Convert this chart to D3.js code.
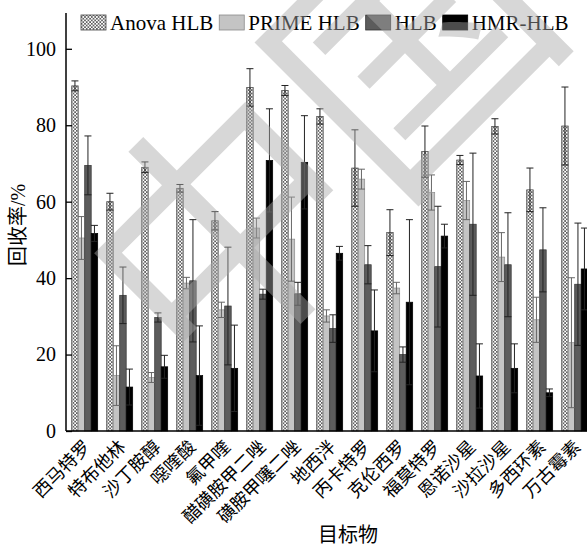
<!DOCTYPE html>
<html>
<head>
<meta charset="utf-8">
<script src="https://cdn.jsdelivr.net/npm/d3@7"></script>
<style>
  body { margin: 0; background: #fff; }
  text { font-family: "Liberation Serif", "Times New Roman", serif; }
  .cjk { font-family: "Noto Sans CJK SC", sans-serif; }
</style>
</head>
<body>
<div id="plot"></div>
<script>
// data
const categories = ["西马特罗", "特布他林", "沙丁胺醇", "噁喹酸", "氟甲喹", "醋磺胺甲二唑", "磺胺甲噻二唑",
    "地西泮", "丙卡特罗", "克伦西罗", "福莫特罗", "恩诺沙星", "沙拉沙星", "多西环素", "万古霉素"];
const seriesNames = ["Anova HLB", "PRIME HLB", "HLB", "HMR-HLB"];

const anova    = [90.3, 60.0, 69.0, 63.5, 55.0, 89.9, 89.1, 82.3, 68.8, 51.9, 73.1, 70.9, 79.7, 63.1, 79.8];
const anovaErr = [1.3, 2.2, 1.4, 1.0, 2.4, 4.9, 1.3, 2.0, 10.0, 6.0, 6.7, 1.2, 2.0, 5.7, 10.2];
const prime    = [50.5, 14.5, 14.0, 38.7, 31.7, 53.1, 50.2, 30.1, 65.9, 37.4, 62.4, 60.3, 45.5, 29.1, 23.1];
const primeErr = [5.6, 7.8, 1.3, 1.5, 2.0, 2.6, 11.0, 1.6, 2.6, 1.5, 4.6, 5.0, 6.4, 5.9, 17.0];
const hlb      = [69.5, 35.5, 29.7, 39.3, 32.7, 35.8, 35.9, 26.8, 43.5, 20.0, 43.0, 54.1, 43.5, 47.4, 38.4];
const hlbErr   = [7.7, 7.4, 1.2, 16.0, 15.4, 1.3, 3.0, 3.6, 5.0, 2.0, 15.8, 18.6, 13.6, 11.0, 16.0];
const hmr      = [51.7, 11.5, 16.8, 14.5, 16.4, 70.8, 70.3, 46.5, 26.2, 33.7, 51.0, 14.4, 16.4, 10.0, 42.4];
const hmrErr   = [2.1, 4.7, 3.0, 13.0, 11.3, 13.5, 12.2, 1.8, 10.7, 21.6, 3.1, 8.4, 6.4, 1.0, 10.7];
const yTicks = [0, 20, 40, 60, 80, 100];

const values = [anova, prime, hlb, hmr];
const errors = [anovaErr, primeErr, hlbErr, hmrErr];

const width = 587, height = 547;
const axisX = 66, axisY = 431;

const svg = d3.select("#plot").append("svg")
    .attr("width", width)
    .attr("height", height);

// crosshatch pattern for Anova HLB
const defs = svg.append("defs");
const pat = defs.append("pattern")
    .attr("id", "hatch")
    .attr("patternUnits", "userSpaceOnUse")
    .attr("width", 3.4).attr("height", 3.4);
pat.append("rect").attr("width", 3.4).attr("height", 3.4).attr("fill", "#fff");
pat.append("path")
    .attr("d", "M0,0L3.4,3.4M3.4,0L0,3.4")
    .attr("stroke", "#555").attr("stroke-width", 0.8);

const fills = ["url(#hatch)", "#c4c4c4", "#5c5c5c", "#000"];
const strokes = ["#444", "#8a8a8a", "#333", "#000"];

const x = d3.scaleBand()
    .domain(categories)
    .range([67.2, 592.2])
    .paddingInner(9 / 35)
    .paddingOuter(4.5 / 35);

const xs = d3.scaleBand()
    .domain(d3.range(seriesNames.length))
    .range([0, x.bandwidth()]);

const y = d3.scaleLinear()
    .domain([0, 100])
    .range([axisY, 48.8]);

// bars
const groups = svg.append("g")
    .selectAll("g")
    .data(categories)
    .join("g")
    .attr("transform", d => `translate(${x(d)},0)`);

groups.each(function (cat, i) {
    const g = d3.select(this);
    seriesNames.forEach((s, k) => {
        const v = values[k][i];
        g.append("rect")
            .attr("x", xs(k))
            .attr("y", y(v))
            .attr("width", xs.bandwidth())
            .attr("height", y(0) - y(v))
            .attr("fill", fills[k])
            .attr("stroke", strokes[k])
            .attr("stroke-width", 0.7);
    });
});

// error bars
groups.each(function (cat, i) {
    const g = d3.select(this);
    seriesNames.forEach((s, k) => {
        const v = values[k][i], e = errors[k][i];
        const cx = xs(k) + xs.bandwidth() / 2;
        const hi = y(v + e), lo = y(Math.max(0, v - e));
        const col = k === 1 ? "#666" : "#222";
        g.append("line")
            .attr("x1", cx).attr("x2", cx)
            .attr("y1", hi).attr("y2", lo)
            .attr("stroke", col).attr("stroke-width", 1);
        [hi, lo].forEach(yy => {
            g.append("line")
                .attr("x1", cx - 3.5).attr("x2", cx + 3.5)
                .attr("y1", yy).attr("y2", yy)
                .attr("stroke", col).attr("stroke-width", 1);
        });
    });
});

// y axis
const yAxis = d3.axisLeft(y)
    .tickValues(yTicks)
    .tickSizeInner(-6)
    .tickSizeOuter(0)
    .tickPadding(10);

const gy = svg.append("g")
    .attr("transform", `translate(${axisX},0)`)
    .call(yAxis);
gy.select(".domain").remove();
gy.selectAll(".tick line").attr("stroke", "#000").attr("stroke-width", 1.3);
gy.selectAll(".tick text")
    .attr("font-family", "Liberation Serif, serif")
    .attr("font-size", 20)
    .attr("fill", "#000");

svg.append("line")
    .attr("x1", axisX).attr("x2", axisX)
    .attr("y1", axisY).attr("y2", 13)
    .attr("stroke", "#000").attr("stroke-width", 1.5);

// x axis
const xAxis = d3.axisBottom(x).tickSize(0).tickPadding(0);
const gx = svg.append("g")
    .attr("transform", `translate(0,${axisY})`)
    .call(xAxis);
gx.select(".domain").remove();
gx.selectAll(".tick text")
    .attr("class", "cjk")
    .attr("font-size", 18)
    .attr("fill", "#000")
    .attr("text-anchor", "end")
    .attr("dy", 0)
    .attr("y", 0)
    .attr("transform", "translate(7,17) rotate(-45)");

svg.append("line")
    .attr("x1", axisX).attr("x2", width)
    .attr("y1", axisY).attr("y2", axisY)
    .attr("stroke", "#000").attr("stroke-width", 1.5);

// axis titles
svg.append("text")
    .attr("transform", "translate(25,225) rotate(-90)")
    .attr("text-anchor", "middle")
    .attr("font-size", 20)
    .html('<tspan class="cjk">回收率</tspan><tspan>/%</tspan>');

svg.append("text")
    .attr("class", "cjk")
    .attr("x", 348).attr("y", 542)
    .attr("text-anchor", "middle")
    .attr("font-size", 20)
    .text("目标物");

// legend
let lx = 81;
seriesNames.forEach((s, k) => {
    svg.append("rect")
        .attr("x", lx).attr("y", 15)
        .attr("width", 25).attr("height", 15)
        .attr("fill", fills[k])
        .attr("stroke", strokes[k])
        .attr("stroke-width", 0.8);
    const t = svg.append("text")
        .attr("x", lx + 29).attr("y", 30)
        .attr("font-size", 21)
        .text(s);
    lx += 29 + t.node().getComputedTextLength() + 6;
});

// CNKI watermark over the plot
svg.append("text")
    .attr("class", "cjk")
    .attr("transform", "translate(200,395) rotate(-45)")
    .attr("font-size", 265)
    .attr("font-weight", 400)
    .attr("fill", "#a8a8a8")
    .attr("opacity", 0.45)
    .text("中国");
</script>
</body>
</html>
